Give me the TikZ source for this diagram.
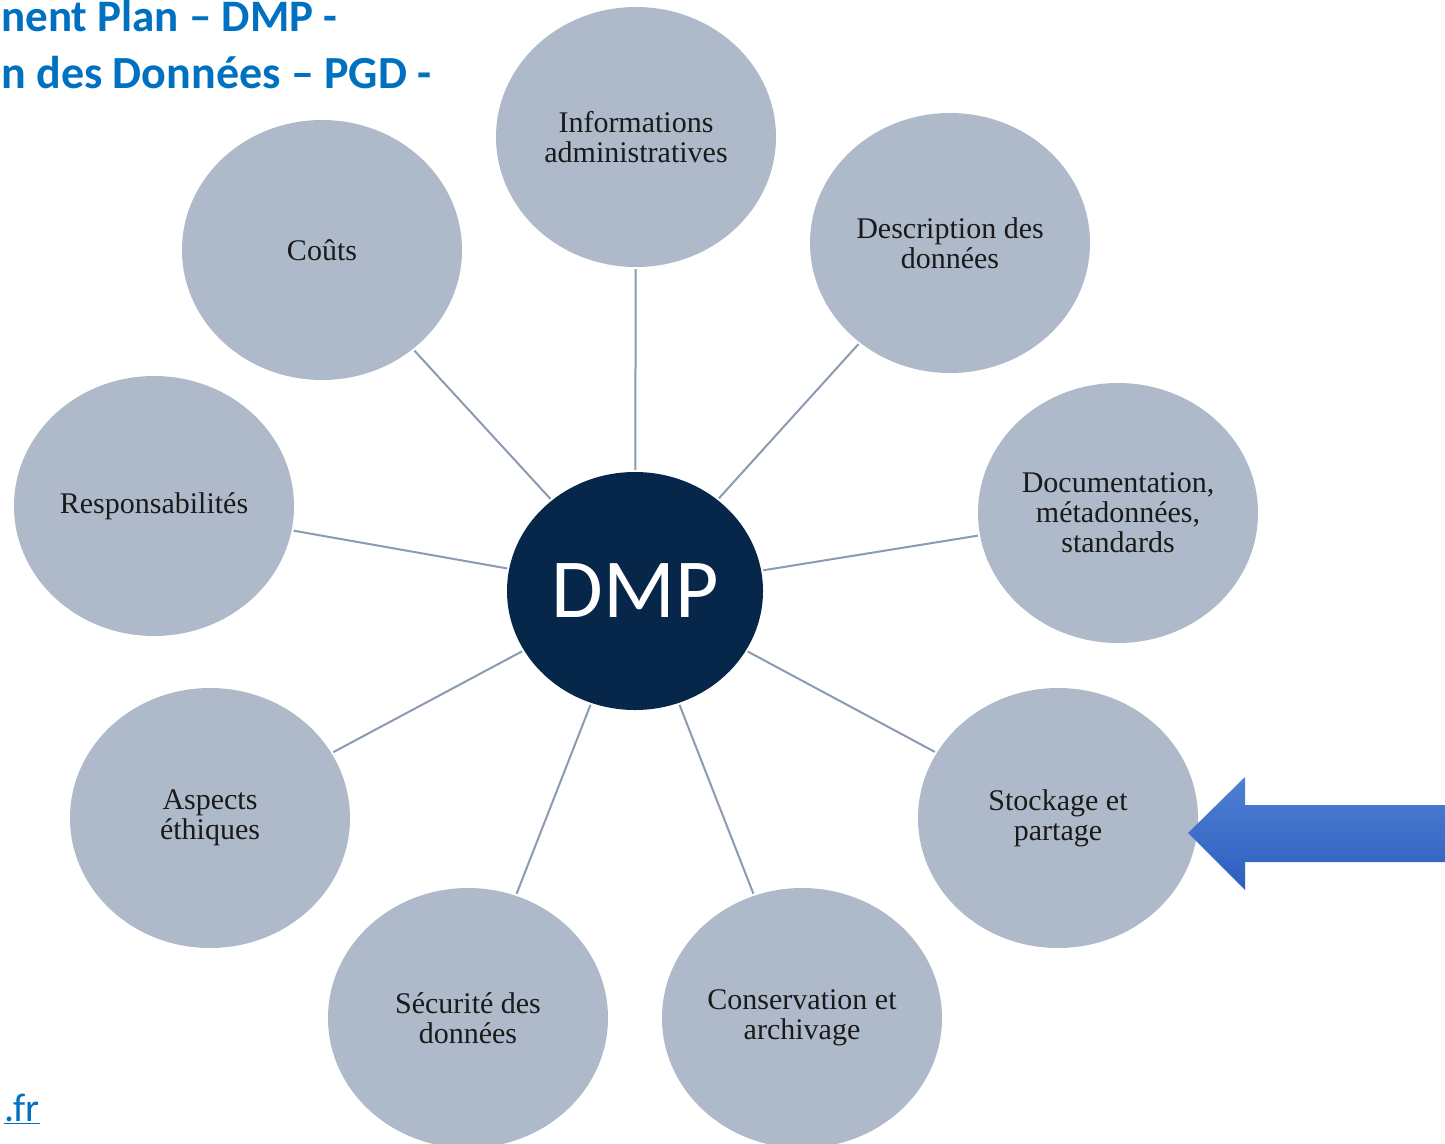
\documentclass[tikz,border=0pt]{standalone}
\usepackage{fontspec}
\setmainfont{Liberation Serif}
\newfontfamily\calibri{Carlito}
\usetikzlibrary{shapes.geometric}
\definecolor{topicfill}{HTML}{AEBACA}
\definecolor{hubfill}{HTML}{06264A}
\definecolor{spoke}{HTML}{8A9BB2}
\definecolor{titleblue}{HTML}{0070C0}
\definecolor{arrowtop}{HTML}{5080D4}
\definecolor{arrowbot}{HTML}{2D5EBE}
\definecolor{topictext}{HTML}{1A1A1A}
\tikzset{
  topic/.style={ellipse, fill=topicfill, minimum width=280pt, minimum height=260pt,
    inner sep=0pt, align=center, text=topictext,
    font=\fontsize{30}{30}\selectfont},
  hub/.style={ellipse, fill=hubfill, minimum width=256pt, minimum height=238pt,
    inner sep=0pt, text=white, font=\calibri\fontsize{84}{84}\selectfont},
  spokeline/.style={draw=spoke, line width=2pt},
  titletext/.style={anchor=base west, inner sep=0pt, text=titleblue,
    font=\calibri\bfseries\fontsize{46}{46}\selectfont},
}
\begin{document}
\begin{tikzpicture}[x=1pt,y=-1pt]
\useasboundingbox (0,0) rectangle (1445,1143);
\clip (0,0) rectangle (1445,1143);
\fill[white] (0,0) rectangle (1445,1143);

% heading
\node[titletext, font=\calibri\bfseries\fontsize{45}{45}\selectfont] (t1) at (1,31) {nent Plan – DMP -};
\node[titletext] (t2) at (1,88) {n des Données – PGD -};
\node[anchor=base east, inner sep=0pt, text=titleblue,
  font=\calibri\fontsize{40}{40}\selectfont] (link) at (40,1121) {\underline{.fr}};

% hub and topics
\node[hub] (dmp) at (635,591) {DMP};
\node[topic] (admin) at (636,137) {Informations\\administratives};
\node[topic] (couts) at (322,250) {Coûts};
\node[topic] (descr) at (950,243) {Description des\\données};
\node[topic] (resp) at (154,506) {Responsabilités};
\node[topic] (doc) at (1118,513) {Documentation,\\métadonnées,\\standards};
\node[topic] (ethic) at (210,818) {Aspects\\éthiques};
\node[topic] (stock) at (1058,818) {Stockage et\\partage};
\node[topic] (secu) at (468,1018) {Sécurité des\\données};
\node[topic] (cons) at (802,1018) {Conservation et\\archivage};

% spokes
\foreach \t in {admin,couts,descr,resp,doc,ethic,stock,secu,cons}
  \draw[spokeline, shorten <=2pt, shorten >=2pt] (dmp) -- (\t);

% pointer arrow
\shade[top color=arrowtop, bottom color=arrowbot]
  (1188,833) -- (1245,777) -- (1245,805) -- (1445,805) -- (1445,862)
  -- (1245,862) -- (1245,890) -- cycle;
\end{tikzpicture}
\end{document}
